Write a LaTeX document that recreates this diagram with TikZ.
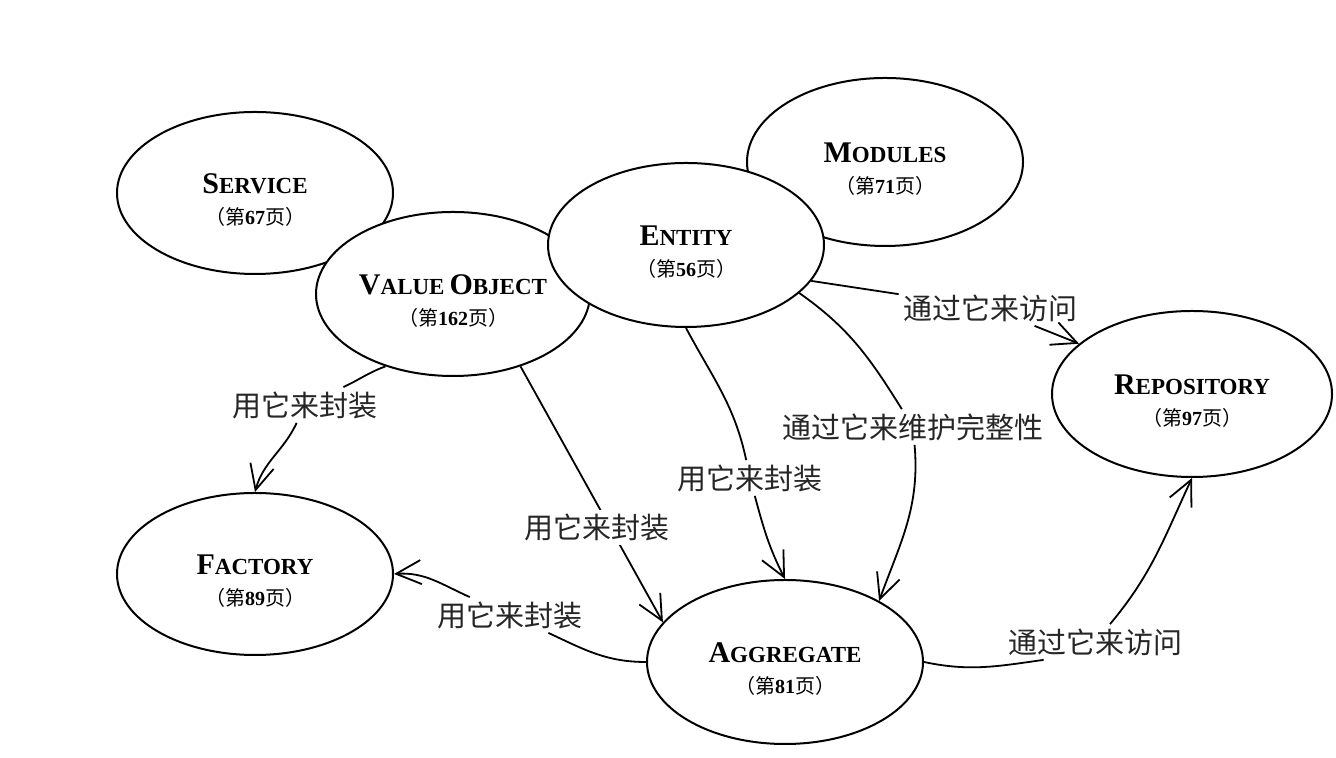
\documentclass[tikz,border=0pt]{standalone}
\usepackage{fontspec}
\setmainfont{Liberation Serif}
\newfontfamily\cjk{Noto Sans CJK SC}
\usetikzlibrary{shapes.geometric,arrows.meta}

\newcommand{\enttitle}[2]{\rule{0pt}{17pt}{\fontsize{15}{15}\selectfont #1}{\fontsize{11.5}{15}\selectfont #2}}
\newcommand{\entpage}[1]{{\cjk\mdseries\fontsize{10}{12}\selectfont （第{\rmfamily\bfseries #1}页）}}

\begin{document}
\begin{tikzpicture}[x=0.5pt,y=0.5pt,
	concept/.style={ellipse,draw,line width=1pt,fill=white,inner sep=0pt,align=center,font=\bfseries},
	relabel/.style={font=\cjk\fontsize{14.5}{16}\selectfont,text=black!85,inner sep=2pt},
	link/.style={line width=0.9pt},
	arrowlink/.style={link,-{Straight Barb[length=12.5pt,width=12pt]}}]
			\fill[white] (0,0) rectangle (1336,758);
			% the building blocks, back ones first
			\node[concept,minimum width=138pt,minimum height=81pt] (service) at (255,565) {\enttitle{S}{ERVICE}\\[3.5pt]\entpage{67}};
			\node[concept,minimum width=137pt,minimum height=82pt] (valueobj) at (453,464) {\enttitle{V}{ALUE} \enttitle{O}{BJECT}\\[3.5pt]\entpage{162}};
			\node[concept,minimum width=138pt,minimum height=84pt] (modules) at (885,596) {\enttitle{M}{ODULES}\\[3.5pt]\entpage{71}};
			\node[concept,minimum width=138pt,minimum height=82pt] (entity) at (686,513) {\enttitle{E}{NTITY}\\[3.5pt]\entpage{56}};
			\node[concept,minimum width=140pt,minimum height=83pt] (repository) at (1192,364) {\enttitle{R}{EPOSITORY}\\[3.5pt]\entpage{97}};
			\node[concept,minimum width=138pt,minimum height=81pt] (factory) at (255,184) {\enttitle{F}{ACTORY}\\[3.5pt]\entpage{89}};
			\node[concept,minimum width=138pt,minimum height=82pt] (aggregate) at (785,96) {\enttitle{A}{GGREGATE}\\[3.5pt]\entpage{81}};
			% labels on the links
			\node[relabel] (l1) at (305,353) {用它来封装};
			\node[relabel] (l3) at (750,280) {用它来封装};
			\node[relabel] (l4) at (913,331) {通过它来维护完整性};
			\node[relabel] (l5) at (990,450) {通过它来访问};
			\node[relabel] (l6) at (510,143) {用它来封装};
			\node[relabel] (l7) at (1095,116) {通过它来访问};
			% links
			\draw[link] (valueobj.227) to[out=200,in=25] (l1);
			\draw[arrowlink] (l1) to[out=245,in=75] (factory.north);
			\draw[arrowlink] (valueobj.313) -- node[relabel,fill=white,pos=0.63,xshift=-6.5pt] (l2) {用它来封装} (aggregate.162);
			\draw[link] (entity.270) to[out=-62,in=102] (l3);
			\draw[arrowlink] (l3) to[out=-75,in=117] (aggregate.north);
			\draw[link] (entity.337) to[out=-35,in=122] (l4);
			\draw[arrowlink] (l4) to[out=-85,in=70] (aggregate.33);
			\draw[link] (entity.344) -- (l5);
			\draw[arrowlink] (l5) -- (repository.156);
			\draw[link] (aggregate.west) to[out=180,in=-25] (l6);
			\draw[arrowlink] (l6) to[out=156,in=4] (factory.east);
			\draw[link] (aggregate.east) to[out=-12,in=188] ([xshift=20pt]l7.south west);
			\draw[arrowlink] (l7) to[out=50,in=245] (repository.south);
%			\draw[link] (service) -- (valueobj);
		\end{tikzpicture}
\end{document}
